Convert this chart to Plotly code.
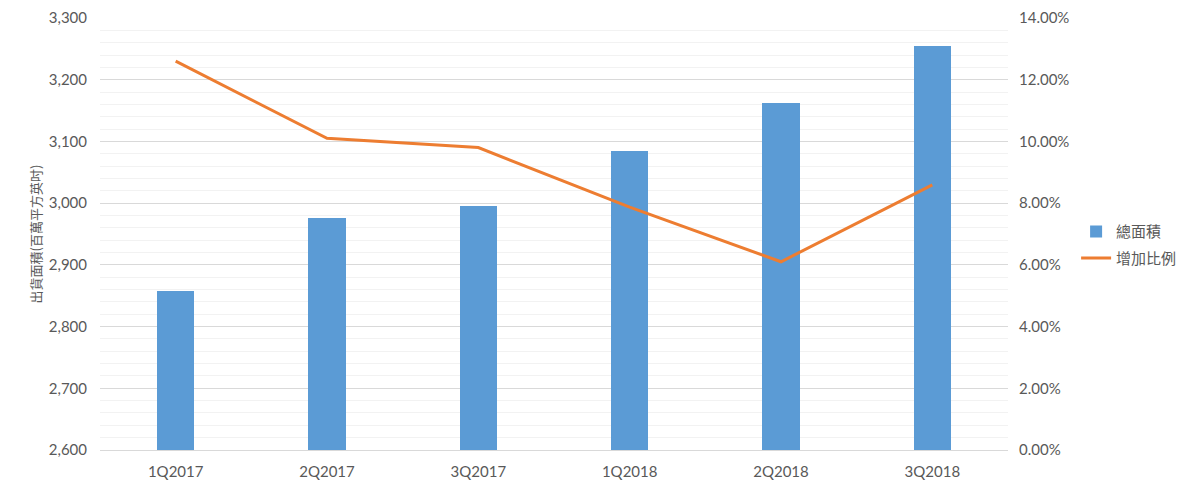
import plotly.graph_objects as go

categories = ["1Q2017", "2Q2017", "3Q2017", "1Q2018", "2Q2018", "3Q2018"]
area_values = [2857, 2976, 2996, 3084, 3163, 3255]
growth_values = [0.126, 0.101, 0.098, 0.0787, 0.061, 0.0859]
bar_name = "總面積"
line_name = "增加比例"
y_title = "出貨面積(百萬平方英吋)"

font_main = "Lato, 'Noto Sans CJK TC', sans-serif"

fig = go.Figure()
fig.add_trace(go.Bar(
    x=categories, y=area_values, name=bar_name,
    marker=dict(color="#5B9BD5", line=dict(width=0)),
    width=0.245, yaxis="y", legendgroup="a",
))
fig.add_trace(go.Scatter(
    x=categories, y=growth_values, name=line_name,
    mode="lines", line=dict(color="#ED7D31", width=3),
    yaxis="y2", legendgroup="b",
))

fig.update_layout(
    width=1184, height=476,
    margin=dict(l=92, r=184, t=10, b=34),
    paper_bgcolor="white", plot_bgcolor="white",
    font=dict(family=font_main, size=13, color="#595959"),
    showlegend=True,
    legend=dict(x=1.075, y=0.475, xanchor="left", yanchor="middle",
                font=dict(family="'Noto Sans CJK TC', sans-serif", size=15, color="#595959"),
                tracegroupgap=4, itemwidth=30),
    xaxis=dict(type="category", showgrid=False, showline=True, linecolor="#d9d9d9",
               ticks="", automargin=False, ticklabelstandoff=8,
               tickfont=dict(size=15, color="#595959")),
    yaxis=dict(range=[2600, 3300], dtick=100, tickformat=",", showline=False,
               gridcolor="#d9d9d9", gridwidth=1, zeroline=False, ticks="", automargin=False,
               ticklabelstandoff=12,
               minor=dict(dtick=20, showgrid=True, gridcolor="#f2f2f2", gridwidth=1),
               title=dict(text=y_title, font=dict(family="'Noto Sans CJK TC', sans-serif", size=13, color="#595959"), standoff=4),
               tickfont=dict(size=15, color="#595959")),
    yaxis2=dict(range=[0, 0.14], dtick=0.02, tickformat=".2%", overlaying="y", side="right",
                showgrid=False, zeroline=False, showline=False, ticks="", automargin=False,
                ticklabelstandoff=10,
                tickfont=dict(size=15, color="#595959")),
    bargap=0,
)

fig.write_html("out.html")
